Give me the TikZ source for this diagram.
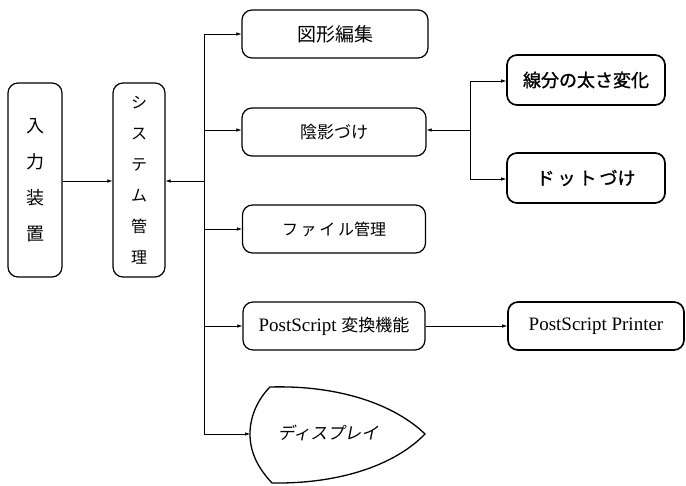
\documentclass[tikz,border=0pt]{standalone}
\usepackage{fontspec}
\usetikzlibrary{arrows.meta}
\setmainfont{Liberation Serif}
\newfontfamily\jp{Noto Sans CJK JP}
\newfontfamily\jpbold[FakeBold=1.2]{Noto Sans CJK JP}
\newfontfamily\jpsl[FakeSlant=0.2]{Noto Sans CJK JP}
\begin{document}
\begin{tikzpicture}[x=1pt,y=-1pt,
  box/.style={draw,line width=1.2pt,rounded corners=10pt,minimum height=48pt,inner sep=0pt,align=center},
  bbox/.style={box,line width=1.7pt},
  vbox/.style={draw,line width=1.2pt,rounded corners=10pt,minimum height=194pt,inner sep=0pt,align=center},
  conn/.style={line width=0.6pt,-{Latex[length=5pt,width=3.5pt]}},
  wire/.style={line width=0.6pt}]
\useasboundingbox (0,0) rectangle (686,486);
% left boxes
\node[vbox,minimum width=54pt,font=\jp\fontsize{18}{36}\selectfont] (inp) at (35,180) {入\\力\\装\\置};
\node[vbox,minimum width=52pt,font=\jp\fontsize{16}{31}\selectfont] (sys) at (139,180) {シ\\ス\\テ\\ム\\管\\理};
% middle boxes
\node[box,minimum width=186pt,font=\jp\fontsize{19}{22}\selectfont] (zukei) at (335,34) {図形編集};
\node[box,minimum width=184pt,font=\jp\fontsize{17}{20}\selectfont] (inei) at (334,132) {陰影づけ};
\node[box,minimum width=183pt,font=\jp\fontsize{16}{20}\selectfont] (file) at (334,229) {フ\,ァ\,イ\,ル管理};
\node[box,minimum width=182pt] (ps) at (334,326) {\fontsize{19}{22}\selectfont PostScript {\jp\fontsize{17}{20}\selectfont 変換機能}};
% right boxes
\node[bbox,minimum width=158pt,minimum height=50pt,font=\jpbold\fontsize{18}{22}\selectfont] (sen) at (586,80) {線分の太さ変化};
\node[bbox,minimum width=158pt,minimum height=50pt,font=\jpbold\fontsize{18}{22}\selectfont] (dot) at (586,178) {ド\,ッ\,ト\,づけ};
\node[bbox,minimum width=176pt] (prn) at (596,326) {\fontsize{19}{22}\selectfont PostScript Printer};
% display shape
\coordinate (disp) at (250,434);
\draw[line width=1.3pt] (270,387) .. controls (340,385) and (395,405) .. (425,434)
  .. controls (395,465) and (340,484) .. (272,483)
  .. controls (256,466) and (250,450) .. (disp)
  .. controls (250,416) and (258,399) .. (270,387) -- cycle;
\node[font=\jpsl\fontsize{17}{20}\selectfont] (dtxt) at (328,433) {ディスプレイ};
% bus
\coordinate (btop) at (204,34);
\coordinate (bbot) at (204,434);
\coordinate (bsys) at (204,181);
\draw[wire] (btop) -- (bbot);
\draw[conn] (inp.east |- bsys) -- (sys.west |- bsys);
\draw[conn] (bsys) -- (sys.east |- bsys);
\draw[conn] (btop) -- (zukei.west |- btop);
\draw[conn] (204,130) -- (inei.west |- 0,130);
\draw[conn] (204,229) -- (file.west);
\draw[conn] (204,326) -- (ps.west);
\draw[conn] (bbot) -- (disp);
% branch
\coordinate (rtop) at (470,81);
\coordinate (rbot) at (470,179);
\coordinate (rmid) at (470,130);
\draw[wire] (rtop) -- (rbot);
\draw[conn] (rmid) -- (inei.east |- rmid);
\draw[conn] (rtop) -- (sen.west |- rtop);
\draw[conn] (rbot) -- (dot.west |- rbot);
\draw[conn] (ps.east) -- (prn.west);
\end{tikzpicture}
\end{document}
